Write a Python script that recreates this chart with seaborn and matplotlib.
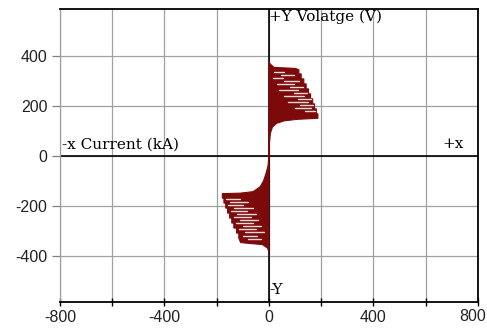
import numpy as np
import pandas as pd
import matplotlib
matplotlib.use("Agg")
import matplotlib.pyplot as plt
import seaborn as sns

# ---- data (current kA, voltage V) ----
# outline of the upper family of loops (first quadrant)
upper_x = [0, 2, 6, 14, 30, 60, 110, 188, 188, 182, 182, 175, 175, 168, 168, 160, 160,
           152, 152, 143, 143, 134, 134, 124, 124, 115, 115, 100, 60, 20, 5, 0]
upper_y = [0, 50, 90, 115, 130, 140, 146, 150, 168, 168, 188, 188, 208, 208, 228, 228, 248,
           248, 268, 268, 288, 288, 308, 308, 328, 328, 345, 350, 352, 354, 368, 380]

# outline of the lower family of loops (third quadrant)
lower_x = [0, -3, -10, -20, -33, -60, -110, -178, -178, -172, -172, -165, -165, -158, -158,
           -150, -150, -142, -142, -134, -134, -124, -124, -115, -115, -108, -70, -25, -5, 0]
lower_y = [0, -40, -68, -100, -124, -144, -150, -152, -170, -170, -190, -190, -210, -210, -230,
           -230, -250, -250, -270, -270, -290, -290, -310, -310, -330, -348, -352, -356, -370, -385]

# light streaks between the traced loops: level, start, end
upper_gap_y = [335, 322, 310, 298, 286, 274, 262, 250, 238, 226, 214, 202, 190, 178]
upper_gap_x0 = [20, 45, 15, 60, 30, 80, 40, 95, 60, 110, 75, 120, 100, 140]
upper_gap_x1 = [60, 95, 55, 115, 95, 130, 110, 145, 135, 160, 150, 170, 160, 178]

lower_gap_y = [-175, -187, -199, -211, -223, -235, -247, -259, -271, -283, -295, -307, -320, -333]
lower_gap_x0 = [-165, -150, -158, -135, -145, -120, -135, -110, -125, -100, -115, -90, -100, -80]
lower_gap_x1 = [-110, -80, -100, -60, -85, -50, -70, -40, -60, -30, -50, -20, -45, -30]

x_ticks = [-800, -600, -400, -200, 0, 200, 400, 600, 800]
x_labels = ["-800", "", "-400", "", "0", "", "400", "", ""]
y_ticks = [-400, -200, 0, 200, 400]
y_labels = ["-400", "-200", "0", "200", "400"]

loop_color = "#7d0a0a"

# ---- plot ----
sns.set_theme(style="whitegrid")
plt.rcParams["axes.unicode_minus"] = False
fig = plt.figure(figsize=(4.87, 3.34), dpi=100)
ax = fig.add_axes([0.123, 0.096, 0.858, 0.877])

ax.fill(upper_x, upper_y, color=loop_color, lw=0.8, zorder=3)
ax.fill(lower_x, lower_y, color=loop_color, lw=0.8, zorder=3)

gaps = pd.DataFrame({
    "y": upper_gap_y + lower_gap_y,
    "x0": upper_gap_x0 + lower_gap_x0,
    "x1": upper_gap_x1 + lower_gap_x1,
})
for _, g in gaps.iterrows():
    ax.plot([g.x0, g.x1], [g.y, g.y], color="white", lw=1.0, alpha=0.85, zorder=4)

# trace along the voltage axis
trace = pd.DataFrame({"x": [0, 0], "y": [lower_y[-1], upper_y[-1]]})
sns.lineplot(data=trace, x="x", y="y", color=loop_color, lw=1.5, ax=ax, zorder=5)

# centre axes
ax.axhline(0, color="black", lw=1.2, zorder=2)
ax.axvline(0, color="black", lw=1.2, zorder=2)

ax.set_xlim(-800, 800)
ax.set_ylim(-586, 588)
ax.set_xticks(x_ticks)
ax.set_xticklabels(x_labels, family="Liberation Sans", fontsize=11.5)
ax.set_yticks(y_ticks)
ax.set_yticklabels(y_labels, family="Liberation Sans", fontsize=11.5)
ax.grid(True, color="#a0a0a0", lw=0.9)
ax.set_facecolor("white")
ax.set_xlabel("")
ax.set_ylabel("")

# last x label sits flush with the right edge, as in the original
ax.annotate("800", xy=(800, -586), xytext=(6, -5.2), textcoords="offset points",
            ha="right", va="top", family="Liberation Sans", fontsize=11.5,
            color="#222222", annotation_clip=False)

for side in ["top", "bottom", "right"]:
    ax.spines[side].set_color("black")
    ax.spines[side].set_linewidth(1.3)
ax.spines["left"].set_color("#a0a0a0")
ax.spines["left"].set_linewidth(0.9)

ax.tick_params(axis="x", direction="inout", length=6, width=1, color="black",
               pad=3, bottom=True, labelcolor="#222222")
ax.tick_params(axis="y", direction="out", length=6, width=0.9, color="#808080",
               pad=3, left=True, labelcolor="#222222")

serif = dict(family="DejaVu Serif", fontsize=11, color="black")
ax.text(2, 556, "+Y Volatge (V)", ha="left", va="center", **serif)
ax.text(-793, 45, "-x Current (kA)", ha="left", va="center", **serif)
ax.text(665, 45, "+x", ha="left", va="center", **serif)
ax.text(2, -540, "-Y", ha="left", va="center", **serif)

fig.savefig("out.png", dpi=100)
